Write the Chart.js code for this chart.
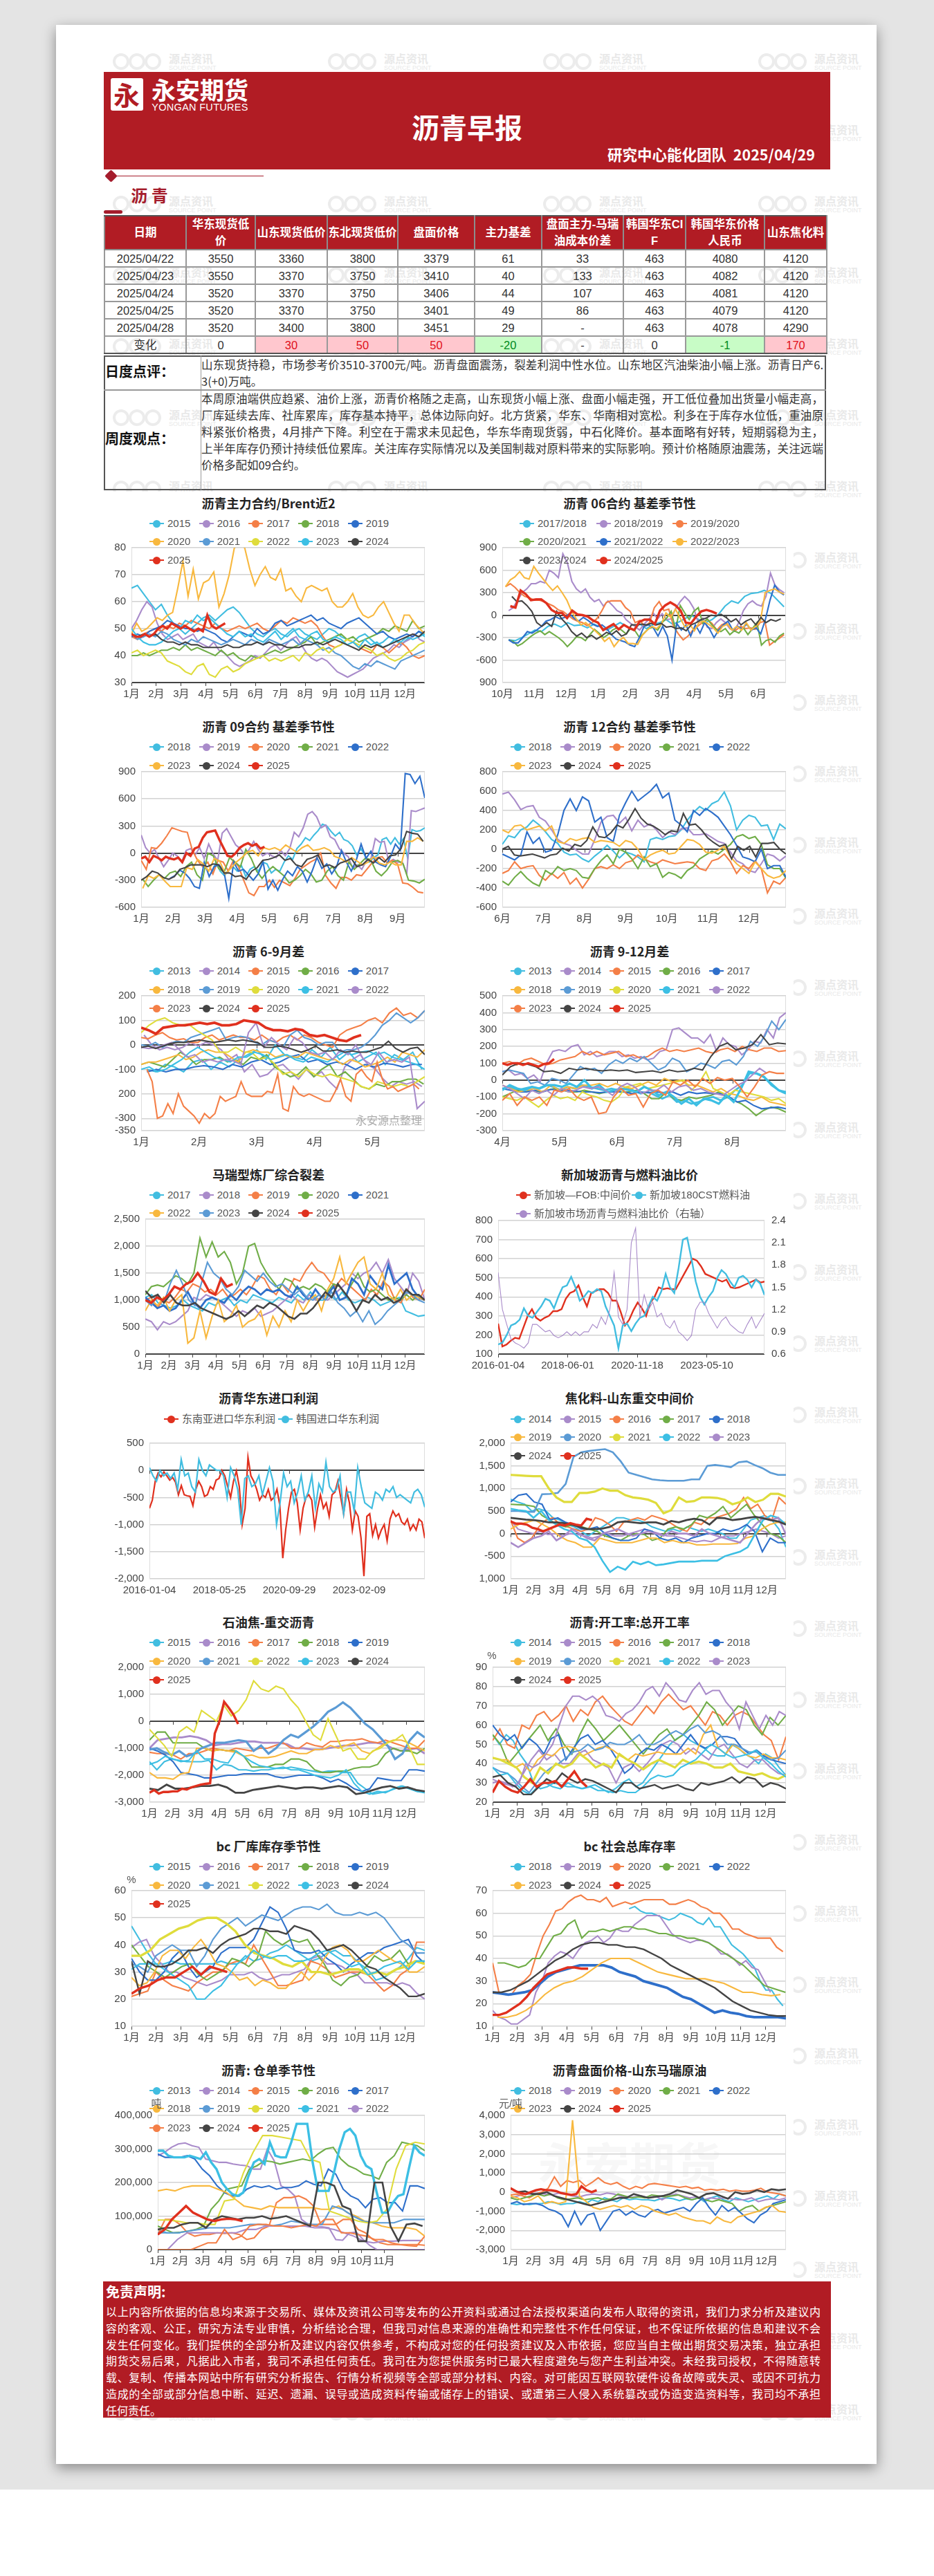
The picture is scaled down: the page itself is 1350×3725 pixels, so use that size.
<!DOCTYPE html>
<html lang="zh">
<head>
<meta charset="utf-8">
<title>沥青早报</title>
<script src="https://cdn.jsdelivr.net/npm/chart.js@4"></script>
<style>
html, body { margin: 0; padding: 0; background: #fff; }
body { position: relative; width: 1350px; height: 3725px; overflow: hidden; font-family: "Liberation Sans", "Noto Sans CJK SC", sans-serif; color: #333; }
#paper { position: absolute; left: 0; top: 0; width: 1350px; height: 3600px; background: #e4e4e4; }
#card { position: absolute; left: 81px; top: 36px; width: 1186px; height: 3527px; background: #fff; box-shadow: 0 6px 18px rgba(0,0,0,.4); }
.abs { position: absolute; }
.center { position: absolute; transform: translate(-50%, -50%); white-space: nowrap; }
.wm { position: absolute; width: 150px; height: 30px; color: #e9e9e9; }
.wm i { position: absolute; top: 2px; width: 24px; height: 24px; border: 4px solid #ececec; border-radius: 50%; box-sizing: border-box; }
.wm b { position: absolute; left: 81px; top: 0; font: bold 16px "Noto Sans CJK SC"; line-height: 18px; white-space: nowrap; }
.wm span { position: absolute; left: 81px; top: 18px; font: 9px "Liberation Sans"; white-space: nowrap; }
table { border-collapse: collapse; table-layout: fixed; position: absolute; background: transparent; }
#price { left: 150px; top: 311px; width: 1044px; }
#price td, #price th { border: 2px solid #999; padding: 0; text-align: center; font-size: 16.5px; line-height: 20px; height: 23px; white-space: pre; font-weight: normal; box-sizing: content-box; }
#price th { background: #b11c24; color: #fff; font-weight: bold; height: 47px; line-height: 23.5px; border-color: #8d8d8d; border-top-color: #555; }
#price tr:last-child td { border-bottom-color: #555; }
#price td.up { background: #ffc7ce; color: #e0101a; }
#price td.down { background: #c8fcc6; color: #008a1c; }
.box { position: absolute; left: 150px; width: 1044px; box-sizing: border-box; border: 2px solid #555; }
.note { position: absolute; left: 291px; width: 899px; font: 16.5px/24px "Noto Sans CJK SC"; text-align: justify; text-align-last: justify; }
.note.end, .disc.end { text-align-last: left; }
.disc { position: absolute; left: 153px; width: 1033px; font: 16px/24px "Noto Sans CJK SC"; color: #fff; text-align: justify; text-align-last: justify; }
.title { position: absolute; transform: translate(-50%, -50%); font: bold 18px "Noto Sans CJK SC"; color: #222; white-space: nowrap; }
.lg { position: absolute; height: 20px; font-size: 15px; line-height: 20px; color: #555; white-space: nowrap; }
.lg u { position: absolute; left: -10px; top: 9px; width: 21px; height: 2px; }
.lg s { position: absolute; left: -5px; top: 5px; width: 11px; height: 11px; border-radius: 50%; }
.lg em { position: absolute; left: 16px; top: 0; font-style: normal; font-family: "Liberation Sans", "Noto Sans CJK SC"; }
canvas { position: absolute; }
</style>
</head>
<body>
<div id="paper"></div>
<div id="card"></div>
<div id="root"></div>
<script>
const tableHead = ['日期', '华东现货低\n价', '山东现货低价', '东北现货低价', '盘面价格', '主力基差', '盘面主力-马瑞\n油成本价差', '韩国华东CI\nF', '韩国华东价格\n人民币', '山东焦化料'];
const tableWidths = [118, 100, 104, 102, 111, 97, 118, 90, 114, 90];
const tableRows = [
  ['2025/04/22', 3550, 3360, 3800, 3379, 61, 33, 463, 4080, 4120],
  ['2025/04/23', 3550, 3370, 3750, 3410, 40, 133, 463, 4082, 4120],
  ['2025/04/24', 3520, 3370, 3750, 3406, 44, 107, 463, 4081, 4120],
  ['2025/04/25', 3520, 3370, 3750, 3401, 49, 86, 463, 4079, 4120],
  ['2025/04/28', 3520, 3400, 3800, 3451, 29, '-', 463, 4078, 4290]
];
const tableChange = ['变化', 0, 30, 50, 50, -20, '-', 0, -1, 170];

const dailyLines = ['山东现货持稳，市场参考价3510-3700元/吨。沥青盘面震荡，裂差利润中性水位。山东地区汽油柴油小幅上涨。沥青日产6.', '3(+0)万吨。'];
const weeklyLines = [
  '本周原油端供应趋紧、油价上涨，沥青价格随之走高，山东现货小幅上涨、盘面小幅走强，开工低位叠加出货量小幅走高，',
  '厂库延续去库、社库累库，库存基本持平，总体边际向好。北方货紧，华东、华南相对宽松。利多在于库存水位低，重油原',
  '料紧张价格贵，4月排产下降。利空在于需求未见起色，华东华南现货弱，中石化降价。基本面略有好转，短期弱稳为主，',
  '上半年库存仍预计持续低位累库。关注库存实际情况以及美国制裁对原料带来的实际影响。预计价格随原油震荡，关注远端',
  '价格多配如09合约。'
];
const disclaimerLines = [
  '以上内容所依据的信息均来源于交易所、媒体及资讯公司等发布的公开资料或通过合法授权渠道向发布人取得的资讯，我们力求分析及建议内',
  '容的客观、公正，研究方法专业审慎，分析结论合理，但我司对信息来源的准确性和完整性不作任何保证，也不保证所依据的信息和建议不会',
  '发生任何变化。我们提供的全部分析及建议内容仅供参考，不构成对您的任何投资建议及入市依据，您应当自主做出期货交易决策，独立承担',
  '期货交易后果，凡据此入市者，我司不承担任何责任。我司在为您提供服务时已最大程度避免与您产生利益冲突。未经我司授权，不得随意转',
  '载、复制、传播本网站中所有研究分析报告、行情分析视频等全部或部分材料、内容。对可能因互联网软硬件设备故障或失灵、或因不可抗力',
  '造成的全部或部分信息中断、延迟、遗漏、误导或造成资料传输或储存上的错误、或遭第三人侵入系统篡改或伪造变造资料等，我司均不承担',
  '任何责任。'
];

const months12 = ['1月', '2月', '3月', '4月', '5月', '6月', '7月', '8月', '9月', '10月', '11月', '12月'];
const years1325 = ['2013', '2014', '2015', '2016', '2017', '2018', '2019', '2020', '2021', '2022', '2023', '2024', '2025'];

// 沥青主力合约/Brent近2
const brent2015 = [65,66,63,60,57,59,55,52,50,48,50,52,54,55,53,55,57,58,56,53,50,48,47,49,50,48,47,49,50,48,47,46,48,50,49,47,46,45,47,48,46,44,45,47,46,44,46,47,49,47];
const brent2016 = [50,53,57,60,58,52,48,46,47,48,46,47,48,45,44,43,45,42,41,39,37,36,37,38,40,39,41,43,44,42,44,46,47,44,41,39,38,39,38,36,34,33,32,33,34,35,37,39,40,41,42,44,43,45,46,48,46,45];
const brent2017 = [47,46,48,49,50,49,51,50,52,51,53,52,51,50,52,50,49,50,51,50,51,52,50,49,51,53,52,54,53,52,53,51,47,44,43,44,46,45,43,42,41,44,43,41,43,45,43,40,39,40];
const brent2018 = [40,40,41,40,41,42,42,43,42,44,42,43,42,41,40,42,40,41,39,38,40,39,40,41,42,41,42,43,44,45,47,44,45,46,47,48,46,47,45,46,47,48,50,49,51,50,49,53,50,51];
const brent2019 = [47,48,47,49,50,51,53,52,51,50,50,49,50,49,48,46,45,47,49,48,47,50,48,49,52,53,51,52,53,54,55,53,54,52,51,50,52,53,54,52,50,48,49,47,46,47,48,47,49,48];
const brent2020 = [48,52,49,50,52,54,53,55,56,65,75,62,72,61,67,68,71,58,63,70,80,81,80,72,66,70,73,69,68,72,64,65,62,60,65,66,65,64,65,60,58,58,60,63,58,55,54,55,58,60,56,52,49,55,55,52,50,48];
const brent2021 = [48,46,47,48,47,49,48,46,45,44,46,45,47,46,45,44,45,46,45,44,46,45,44,46,45,44,45,46,44,46,45,44,42,43,41,40,38,36,35,37,36,38,37,36,35,38,39,40,41,42];
const brent2022 = [41,42,40,41,42,41,38,37,36,34,33,36,37,33,32,35,36,34,35,37,38,39,40,38,39,38,39,40,38,41,40,42,43,41,43,44,46,45,44,43,42,40,41,39,38,39,41,42,44,45];
const brent2023 = [50,47,45,44,44,45,47,49,50,53,52,55,53,54,52,50,48,47,49,47,48,46,45,47,49,46,48,50,47,46,48,49,46,45,47,46,44,45,43,46,44,45,43,44,46,45,47,46,47,48];
const brent2024 = [48,47,48,47,48,46,45,45,44,45,44,44,43,43,43,43,44,43,43,44,44,45,44,45,44,44,43,43,43,44,44,45,44,45,46,45,44,43,42,44,43,44,43,44,45,46,47,48,47,49];
const brent2025 = [48,47,47,48,47,48,50,51,50,52,51,50,51,50,49,50,49,55,51,50,51,52];

// 沥青 06合约 基差季节性
const june1718 = [-330,-340,-300,-250,-200,-220,-150,-120,-160,-100,-140,-130,-170,-120,-160,-200,-150,-100,-150,-200,-120,-180,-130,-100,-60,-120,-90,-40,-10,-60,-100,-60,10,120,190,160,250,290,300,330,290,200,110];
const june1819 = [60,100,200,300,350,420,420,450,430,600,560,500,820,700,450,350,300,350,240,180,210,120,190,130,60,30,-60,-110,-150,-200,-120,-60,30,-50,20,-60,-50,90,180,250,190,90,-100,-40,-160,-180,-100,-50,-100,-180,-200,-100,60,150,190,140,120,250,560,400,340,300];
const june1920 = [380,420,370,300,250,230,200,200,180,150,120,70,50,0,-50,-80,-100,-140,-100,-50,50,170,190,190,190,100,50,-100,-70,-150,-100,100,180,60,80,-150,-250,-330,-280,-200,-150,-100,-60,-110,-200,-130,-100,-190,-200,-150,-180,-170,-190,-100,-80,-400,-350,-310,-260];
const june2021 = [-330,-350,-410,-380,-330,-280,-240,-210,-260,-220,-260,-300,-350,-420,-360,-290,-300,-340,-260,-190,-240,-300,-260,-200,-170,-200,-250,-180,-210,-300,-240,-180,-160,-200,-100,-40,50,-200,130,30,-60,50,100,-110,-50,-130,-190,-220,-180,-260,-210,-240,-170,-260,-180,-100,-400,-340,-320,-360,-280,-240];
const june2122 = [-330,-370,-370,-300,-220,-240,-200,-150,-80,-60,-20,-50,-30,20,-40,-80,-30,-70,-120,-150,-130,-180,-260,-320,-340,-360,-400,-420,-300,-150,-130,-170,-280,-150,-280,-600,-110,-200,-130,-280,-130,-240,-100,-180,-300,-200,-130,-80,-200,-150,-180,-120,-200,-170,-250,-60,200,400,310,270];
const june2223 = [380,470,510,580,500,480,650,560,480,400,330,390,300,200,50,-50,-130,-100,-160,-210,-270,-350,-300,-420,-340,-300,-380,-380,-390,-270,-200,-150,-180,-120,30,-30,80,-40,-160,-120,-210,-100,-80,-120,-170,-240,-150,-120,-200,-150,-200,-100,-200,-150,-80,300,330,350,310,280];
const june2324 = [250,180,190,130,50,-100,-150,-100,-150,50,-50,-120,-220,-280,-240,-300,-270,-320,-280,-230,-260,-210,-280,-250,-130,-130,-120,-130,-110,-130,-110,-160,-150,-180,-170,-210,-130,-100,-60,-40,0,-10,10,-30,-90,-50,-130,-80,-50,-130,-30,-100,-60,-80,-50];
const june2425 = [120,100,330,280,200,210,210,160,70,30,30,-40,60,10,0,-20,-70,-100,-200,-160,-120,-190,-130,-170,-200,-90,-60,-60,-120,60,130,170,130,60,-100,-110,-20,50,70,50,20];

// 沥青 09合约 基差季节性
const sep2018 = [-230,-100,-200,-250,-180,-150,-200,-140,-260,-180,-150,-200,-100,-120,-220,-180,-200,-100,-30,-70,50,100,170,140,200,250,320,300,240,190,230,150,130,80,-20,50,-30,-100,-50,-20,150,170,100,170,100,160,-60,260,240,250,280];
const sep2019 = [200,60,0,40,-60,-150,-80,0,-30,-100,30,50,-20,60,-60,100,-10,-80,220,270,180,90,50,-20,40,130,40,-30,0,-30,-50,30,-30,50,230,180,280,430,460,400,280,310,180,150,50,0,-40,-170,-130,-180,-90,-70,160,120,130,-100,-70,-100,-100,-230,470,460,480,500];
const sep2020 = [-80,-180,60,50,110,190,280,260,240,230,30,-80,-150,-100,-230,-80,-100,-200,-80,-150,-300,-440,-470,-370,-370,-300,-380,-300,-330,-360,-280,-180,-140,-100,-70,0,-250,-330,-390,-270,-270,-300,-240,-250,-180,-110,-50,-40,-110,-80,-120,-330,-340,-380,-430,-440];
const sep2021 = [-290,-370,-300,-240,-280,-220,-200,-260,-150,-100,-240,-300,0,-30,-170,-210,-50,-100,-150,40,-60,-200,-280,-200,-150,-200,-250,-330,-300,-250,-180,-230,-320,-300,-200,-150,-250,-300,-100,-180,-120,-60,-70,-200,-250,-190,-100,-80,-120,-300,-310,-330,-290];
const sep2022 = [-280,-250,-190,-220,-280,-370,-390,-100,-260,-150,-130,-200,-500,-100,-200,-180,-240,-300,-230,-100,-400,-300,-410,-290,-200,-250,-150,-200,-320,-200,-50,-170,-120,-230,-150,30,-100,-200,-80,100,-60,20,-100,-130,-150,-40,100,30,880,870,770,850,610];
const sep2023 = [-390,-250,-280,-240,-310,-370,-370,-370,-160,-180,-70,-120,-200,-60,-90,-230,-170,-100,-50,10,30,-30,60,40,60,30,90,50,10,60,90,30,40,60,30,-40,-60,-100,-50,-90,-130,-100,-40,-110,-130,-100,-130,-130,130,130,170,130];
const sep2024 = [-300,-260,-200,-220,-270,-290,-260,-180,-160,-130,-130,-130,-150,-120,-130,-220,-220,-260,-250,-290,-200,-160,-80,-70,-50,-20,-80,-60,-130,-150,-70,-50,-20,-150,-130,-160,-110,-90,-60,-150,-130,-70,-110,-50,-100,-30,-20,50,240,220,210,130];
const sep2025 = [-60,-40,-100,-30,-50,-80,-40,-60,-70,-50,-100,0,-30,50,70,170,230,240,250,150,60,-30,-40,0,60,90,110,80,100,50,70];

// 沥青 12合约 基差季节性
const dec2018 = [50,140,120,200,230,300,250,180,100,60,-30,-60,-50,-100,-130,-70,-20,40,-20,-90,-30,-50,-80,-130,100,120,100,130,140,200,300,380,440,400,470,500,590,450,200,300,350,330,240,250,100,260,210];
const dec2019 = [570,590,510,410,440,450,330,290,200,100,60,40,-10,-50,-50,100,280,340,350,270,330,190,300,230,260,200,120,180,150,210,220,150,150,160,120,80,60,-30,-120,-150,-220,-240,-150,-50,-70,-120,-70];
const dec2020 = [-250,-220,-130,-200,-180,-170,-270,-320,-250,-300,-240,-360,-300,-400,-310,-200,-180,-200,-160,-200,-140,-120,-60,-100,-130,-150,-110,-130,-150,-140,-130,-140,-200,-220,-120,-100,-50,-130,-250,-170,-200,-120,-200,-450,-330,-360,-290];
const dec2021 = [-330,-370,-290,-230,-300,-350,-380,-220,-260,-180,-220,-200,-220,-290,-300,-200,-120,-60,-150,0,-30,-100,-200,-80,-180,-150,-290,-240,-260,-300,-220,-180,-100,-60,-20,-50,0,50,130,150,110,130,50,-160,-200,-200,-300];
const dec2022 = [-50,-80,-110,-60,180,60,120,-30,-10,150,400,520,400,540,500,280,330,120,80,350,480,600,500,550,600,670,530,580,300,250,180,400,350,420,380,330,240,150,40,-80,-100,-130,0,-200,-170,-170,-290];
const dec2023 = [200,170,240,250,200,220,240,190,240,80,60,110,90,110,120,70,90,80,70,30,90,70,0,-110,-60,-30,-10,-50,-40,30,100,90,50,-30,-40,-10,30,-80,-150,-200,-250,-130,-200,-270,-300,-280,-220];
const dec2024 = [0,30,-60,-70,-60,-50,-70,-90,-60,-50,10,-20,50,30,90,230,130,120,170,250,220,310,420,320,260,240,200,150,190,180,370,250,260,200,120,70,30,50,-100,30,-10,30,-80,60,60,70,0,-50];
const dec2025 = [];

// 沥青 6-9月差
const sp69y13 = [-100,-110,-80,-90,-110,-70,-60,-100,-70,-90,-60,-40,-20,-60,0,-40,-50,-60,-20,-50,-10,-60,-30,-70,-50,-30,-80,-40,-60,-30,-100];
const sp69y14 = [40,0,-20,-10,-20,-10,10,-5,10,0,-20,-60,-40,-110,-80,-130,-120,-90,-80,-110,-140,-100,-130,-110,-150,-180,-90,-60,-40,-80,-100,-140,-170,-150,-160,-150,-170];
const sp69y15 = [30,25,40,50,30,20,25,10,10,30,40,20,30,40,30,30,20,40,20,10,30,40,20,40,30,10,0,-10,40,60,70,80,100,110,90,130,150,120,130,110,140];
const sp69y16 = [-80,-70,-80,-90,-60,-30,-50,-80,-60,-60,-50,-70,-60,-80,-50,-60,-40,-90,-110,-130,-120,-90,-130,-100,-80,-130,-110,-140,-170,-180,-160,-170,-150,-150,-140,-140,-160];
const sp69y17 = [-110,-100,-110,-100,-100,-90,-85,-90,-100,-80,-90,-70,-60,-80,-70,-50,-40,-70,-60,-80,-70,-80,-100,-80,-90,-75,-80,-90,-80,-80];
const sp69y18 = [-80,-70,-70,-60,-50,-40,-60,-50,-30,-20,-30,-30,-50,-70,-30,-20,-30,-30,-50,-40,-50,-50,-30,-40,-50,-60,-60,-80,-60,-70,-90,-80,-70,-50,-70,-30,-40,-50,-20];
const sp69y19 = [0,-5,10,-10,5,15,10,30,40,50,60,70,20,30,35,30,10,0,20,10,-10,40,60,30,20,0,10,10,-30,-20,-20,-10,10,40,80,100,130,110,90,110,140];
const sp69y20 = [50,80,100,110,90,80,85,60,40,20,-30,-30,-10,-30,-30,-60,-50,-80,-120,-110,-130,-100,-120,-130,-120,-130,-140,-150,-170,-180,-150,-160,-170,-160,-170,-150,-130];
const sp69y21 = [-100,-90,-110,-100,-80,-60,-30,-10,-30,-50,-60,-70,-50,-50,-30,-40,-60,-50,-40,-60,-70,-50,-60,-70,-50,-30,-40,-30,-25,-40,-30,-50,-60,-70,-80,-100];
const sp69y22 = [-10,-15,-10,0,10,-20,-50,-40,-70,-60,-70,-60,-65,-80,50,90,-10,30,0,-20,30,10,-30,-40,-30,-60,-20,-40,0,-60,-80,-30,-70,-60,-70,-50,-260,-230];
const sp69y23 = [-100,-150,-300,-290,-240,-280,-200,-250,-270,-290,-320,-280,-300,-280,-210,-230,-220,-210,-150,-200,-210,-210,-210,-190,-195,-120,-260,-270,-170,-200,-210,-200,-210,-220,-230,-230,-190,-140,-210,-230,-120,-100,-130,-150,-70,-140,-180,-170,-190,-180,-170,-160,-180];
const sp69y24 = [-10,-5,-15,-5,5,10,10,15,20,15,10,15,20,15,20,15,10,-10,-10,-5,-10,-20,-30,-20,-5,-25,-25,-20,-30,-25,-30,-30,-20,-10,15,-15,-30,-15,-10,-40];
const sp69y25 = [70,60,45,70,75,80,80,85,90,85,90,80,80,85,100,95,90,70,60,60,55,65,60,40,35,40,30,20,15,30,40];

// 沥青 9-12月差
const sp912y13 = [-50,-40,-60,-50,-40,-50,-30,-40,-60,-40,-50,-30,-40,-50,-60,-50,-60,-50,-60,-80,-70,-90,-110,-90,-130,-120,-140,-130,-110,-100,-120,-100,-60,-30,40,40,20,-30,-60,-70];
const sp912y14 = [50,60,30,40,10,30,-10,100,170,180,170,200,210,150,170,140,150,170,170,140,150,130,140,120,130,170,180,300,310,280,250,250,220,270,170,250,210,200,150,180,230,220,300,250,370,400];
const sp912y15 = [100,110,90,120,130,110,90,100,120,130,140,170,150,170,150,160,170,140,150,130,140,170,190,170,180,170,180,190,170,160,180,190,170,200,180,170,190,190,170,175];
const sp912y16 = [-100,-80,-60,-70,-60,-70,-60,-50,-60,-70,-70,-60,-70,-80,-70,-60,-70,-70,-60,-80,-110,-110,-70,-110,-120,-100,-110,-100,-90,-70,-100,-120,-140,-170,-210,-180,-160,-170,-190];
const sp912y17 = [-50,-60,-70,-70,-60,-70,-55,-60,-60,-65,-70,-70,-75,-70,-70,-70,-80,-70,-75,-70,-75,-70,-90,-70,-80,-75,-80,-80,-100,-130,-120,-150,-170,-165,-160,-170];
const sp912y18 = [-30,-50,-70,-60,-50,-70,-30,-60,-40,-50,-30,-30,-20,-40,-20,-40,-50,-30,-10,-30,10,-10,0,-30,-30,-50,-70,-50,-80,-90,-110,-120,-100,-130,-140,-150];
const sp912y19 = [50,60,50,40,-20,-10,-30,10,0,-20,30,80,60,70,40,90,120,100,130,110,140,100,60,80,130,110,50,70,100,90,70,110,120,90,140,230,200,260,350,300,360];
const sp912y20 = [-100,-110,-120,-100,-130,-160,-120,-90,-110,-100,-120,-70,-90,-100,-120,-130,-100,-40,-30,-20,-50,-40,-30,-20,-10,0,-60,-20,50,-50,-70,-90,-60,-70,-80,-90,-100,-120,-110,-140];
const sp912y21 = [-60,-30,-50,-60,-40,-50,-30,-30,-40,-20,-40,0,-50,-30,-70,-60,-50,-60,-70,-40,-60,-90,-70,-100,-140,-110,-150,-110,-120,-140,-90,-130,-50,50,40,20,-20,-60,-80];
const sp912y22 = [-30,-50,-80,-110,-60,-80,-60,-90,-50,-70,-60,-40,-50,-40,-60,-90,-40,-20,-40,-80,-60,-60,-30,-70,-40,-30,-60,-50,-70,-80,-90,-60,-30,-10,30,70,40];
const sp912y23 = [-120,-80,-150,-100,-120,-100,-150,-60,-70,-50,-100,-120,-100,-200,-190,-100,-50,-90,-80,-160,-80,-60,-90,-10,-30,0,-40,10,-20,15,0,10,-40,-100,-40,30,50,40,40];
const sp912y24 = [30,80,100,95,80,50,55,40,70,60,70,60,55,60,55,60,45,50,55,45,60,50,55,70,60,140,200,220,180,190,210,270,210,220,215];
const sp912y25 = [100,90,100,100,90,100,90,80,95,100,125];

// 马瑞型炼厂综合裂差
const crack2017 = [1050,1100,950,900,850,900,1000,900,850,800,950,900,1000,1050,900,1000,950,1100,1050,1000,950,1050,1000,950,1100,1000,1150,1000,1000,1100,1000,1150,1000,950,1000,1050,1000,900,950,1000,1050,800,750,700,720];
const crack2018 = [650,600,450,600,550,600,700,800,1050,1000,1100,1050,1000,900,800,700,800,750,850,700,750,800,900,1000,1100,1000,950,1100,1000,1050,1000,1100,1200,1300,1500,1400,1500,1550,1700,1500,1750,1400,1250,1100,1500,1350,1000];
const crack2019 = [1000,1050,850,1000,950,1050,1200,1150,1300,1250,1150,1200,1100,1200,1050,1100,1200,1100,1250,1450,1400,1200,1100,1300,1150,1400,1350,1550,1700,1550,1500,1350,1250,1400,1300,1200,1100,1000,1200,1100,1350,1250,1000,950,1200,1050,1000,1200];
const crack2020 = [1100,1250,1280,1250,1350,1450,1400,1300,1500,2150,1800,2080,1800,1900,1700,1300,1500,2000,2050,1700,1500,1350,1200,1400,1350,1200,1250,1200,1300,1250,1150,1300,1250,1100,1300,1500,1250,1150,1200,1100,1000,1050,1000,1100,1000,1100,1000];
const crack2021 = [1050,950,850,900,800,850,1000,1150,950,850,1000,1050,1000,950,1100,1000,1150,1250,1200,1100,1200,1150,1200,1100,1050,1250,1100,1000,1200,1050,1100,1250,1000,1050,1400,1300,1100,1450,1300,1200,1650,1300,1400,1500,1200,1050,1000];
const crack2022 = [800,1000,900,1050,800,1000,1100,200,300,800,300,700,1000,600,700,900,500,600,650,800,350,700,500,800,600,1000,800,1000,1100,800,1200,1400,1800,1300,1500,1700,1800,1300,1200,1500,1100,1000,1200,1000,1100,1050,1000];
const crack2023 = [1000,900,1100,950,1300,1550,1300,1000,900,1300,1700,1500,1400,1200,1100,1250,1550,1450,1350,1500,1350,1250,1300,1200,1100,1200,1050,1000,1100,1000,1150,950,850,700,800,600,800,550,650,800,900,1000,1150,1100,1000,950];
const crack2024 = [1170,1050,1100,950,1100,950,900,900,950,850,800,750,700,650,700,800,700,800,900,850,950,900,800,700,650,750,750,850,1000,1150,1050,1300,1150,1000,800,1000,950,1100,1000,1050,950,1000,1200,1100,1100,1000];
const crack2025 = [1000,950,1050,1000,1100,1250,1200,1300,1350,1500,1350,1150,1100,1400,1250,1300];

// 新加坡沥青与燃料油比价
const sgAsphalt = [260,140,150,170,185,180,240,300,335,290,275,290,300,325,325,335,390,420,430,460,400,350,420,430,440,440,420,380,380,320,250,280,330,370,340,300,370,400,450,440,445,440,440,480,520,560,600,590,560,520,510,500,490,480,490,450,445,450,460,470,480,490,475,480];
const sgFuel = [150,160,200,250,260,280,340,300,290,320,350,390,380,340,400,450,460,505,450,380,400,430,420,440,430,350,300,250,130,250,260,220,260,290,300,350,400,380,430,520,450,420,550,700,710,600,480,400,360,400,430,500,540,520,480,450,500,510,490,450,490,470,410];
const sgRatio = [1.7,1.2,1.0,0.8,0.75,0.72,0.68,0.75,1.0,1.0,0.95,0.9,0.92,0.85,0.82,0.85,0.9,0.85,0.9,0.85,0.9,0.9,1.0,0.95,1.1,1.0,1.2,1.7,1.1,1.0,1.2,2.1,2.3,1.1,1.4,1.2,1.3,1.1,1.15,1.0,0.95,1.05,0.9,0.85,0.78,0.85,1.2,1.3,1.3,1.15,1.05,0.95,1.05,1.1,1.0,0.95,0.9,0.88,1.0,1.1,0.95,1.05,1.15];

// 沥青华东进口利润
const importSea = [-700,-550,-200,-50,-120,-30,-100,-180,-130,-220,-450,-280,-450,-470,-480,-650,-350,-200,-300,-480,-450,-300,-350,-180,-150,0,-100,-300,-500,-200,-10,-300,-1000,-700,240,-100,-200,-350,-550,-450,-500,-350,-550,-500,-350,-650,-1620,-1100,-700,-400,-350,-600,-1100,-700,-500,-450,-550,-1050,-700,-450,-700,-600,-850,-450,-400,-200,-500,-800,-350,-600,-1100,-750,-850,-1250,-1950,-850,-800,-1200,-1000,-1250,-1100,-1000,-1300,-900,-750,-850,-800,-950,-1000,-900,-1100,-1000,-1100,-900,-950,-1250];
const importKorea = [50,-100,-200,0,-100,-50,-150,-50,-350,200,-100,-50,-300,-400,200,0,-100,100,50,0,0,-100,-500,50,-100,-350,-1000,-150,-100,-300,-250,-100,-450,-200,50,-200,-1000,-600,-50,-300,-200,-600,-400,-100,-550,-400,-100,-700,-250,-400,150,-300,-400,-350,-100,-800,-400,-400,-750,50,-300,-600,-650,-700,-400,-450,-550,-350,-400,-300,-500,-450,-500,-550,-600,-400,-350,-450,-680];

// 焦化料-山东重交中间价
const coker2014 = [760,700,650,500,550,500,350,300,200,150,50,-50,50,150,250,350,350,300,300,250,150,100,50,100,50,150,100,50,100,50,0,-100,-100,100,300,350,400,300,100,-300];
const coker2015 = [300,100,50,0,50,-20,0,-50,0,-20,-50,-100,-50,0,-50,-50,0,50,100,50,0,-50,-50,-100,-150,-180,-150,-180,-100,-50,-50,0,50,100,50,0,-100,-50];
const coker2016 = [300,-100,-200,-100,150,300,350,200,150,100,50,100,350,300,200,50,250,300,350,300,400,350,300,200,100,50,250,200,350,350,400,450,550,800,550,650,400,300,800,650];
const coker2017 = [650,640,630,600,400,300,200,150,200,150,100,50,-50,-100,-150,-50,0,-20,-150,-100,100,150,100,200,400,350,450,600,350,500,650,400,200,0,-50,-200];
const coker2018 = [700,850,880,700,650,300,350,250,200,100,100,150,0,-100,-150,-150,-100,100,50,-100,-150,-100,-200,-100,-50,0,0,100,50,100,200,50,-400,-100,-200,-200];
const coker2019 = [100,200,250,300,200,100,-50,-150,-200,-300,-300,-100,-150,-200,-200,-200,-150,-100,-100,-200,-150,-200,-200,-250,-250,-230,-230,-230,-220,-100,-50,100,200,250,250];
const coker2020 = [500,500,480,480,870,880,900,1100,1700,1800,1830,1850,1870,1800,1600,1350,1300,1250,1200,1180,1170,1170,1170,1200,1200,1500,1520,1500,1470,1580,1600,1520,1450,1350,1300,1300];
const coker2021 = [1300,1290,1280,1270,1270,1000,800,700,700,900,900,930,1000,950,950,850,800,780,750,680,450,520,800,700,720,800,800,790,750,650,700,800,700,750,880,880,820];
const coker2022 = [550,520,500,350,500,300,200,100,50,-100,-150,-300,-600,-850,-730,-800,-620,-680,-620,-700,-680,-650,-620,-620,-620,-600,-600,-600,-500,-450,-400,-300,0,300,400,350,200];
const coker2023 = [-200,-300,-200,-100,-50,50,-150,-50,100,0,-100,-150,0,50,100,20,-50,0,50,0,-50,50,0,0,-50,100,0,-50,-100,-150,-200,0,200,350,300,350,-20];
const coker2024 = [350,330,310,300,280,250,250,230,200,150,100,100,110,150,250,270,250,230,250,250,200,280,250,300,330,300,200,350,340,300,320,350,370,340,300,270,200];
const coker2025 = [270,220,220,200,130,100,50,100,150,200,180,230,200,180,330,300];

// 石油焦-重交沥青
const coke2015 = [-1500,-1800,-1500,-1400,-1450,-1500,-1500,-1500,-1450,-1800,-1600,-1650,-1800,-1800,-1850,-1800,-1800,-1750,-1750,-1700,-1750,-1800,-1850,-1900,-1850,-1850,-1900,-1900,-2300,-2500,-2700,-2650,-2600,-2500,-2400,-2500,-2600,-2600];
const coke2016 = [-1000,-700,-650,-600,-600,-550,-600,-700,-900,-850,-850,-800,-750,-750,-800,-800,-800,-850,-1000,-1000,-1050,-1050,-1000,-950,-900,-900,-850,-800,-800,-850,-1000,-1100,-1050,-1000,-1200];
const coke2017 = [-1150,-1200,-1200,-1250,-1400,-1200,-1200,-1100,-1000,-1050,-1100,-1000,-1050,-1100,-1000,-1000,-900,-800,-1000,-1000,-800,-900,-950,-750,-750,-700,-700,-650,-750,-800,-700,-800,-900,-1000,-1000,-700];
const coke2018 = [-700,-400,-400,-800,-800,-800,-800,-1000,-1100,-1050,-1100,-1100,-1300,-1700,-1700,-1700,-1600,-1600,-1400,-1400,-1500,-1800,-1900,-1900,-1850,-1850,-1750,-1700,-1700,-1600,-1200,-1000,-1100,-1100,-1200,-1000];
const coke2019 = [-1000,-1100,-1250,-1500,-1900,-1950,-2000,-2100,-2100,-2050,-2000,-2000,-1950,-1950,-1950,-1950,-2050,-2100,-2050,-2000,-2000,-2000,-2100,-2250,-2150,-2300,-2500,-2600,-2500,-2100,-2150,-2200,-2200,-1800,-1800,-1850];
const coke2020 = [-1900,-2100,-2100,-2150,-1950,-1900,-1000,-1000,-1100,-1050,-1100,-1150,-1300,-1250,-1350,-1350,-1300,-1200,-1100,-1200,-1200,-1050,-1050,-900,-1000,-900,-800,-1100,-1200,-1000,-800,-700,-700,-800,-950,-1100];
const coke2021 = [-1050,-1000,-1150,-1250,-1100,-1300,-1200,-1000,-900,-800,-800,-750,-700,-750,-1100,-900,-1200,-1000,-700,-500,-600,-400,-200,50,350,500,700,500,200,-100,-300,-600,-900,-1400,-1200,-700,-400,-600];
const coke2022 = [-300,-600,-900,-1300,-400,-200,-400,400,200,0,600,200,400,800,1500,1200,1100,1300,1200,800,500,0,-500,-700,100,-500,-1100,-1000,-1400,-1400,-1100,-1000,-800,-700,-500,-1000,-1600,-1600];
const coke2023 = [-1600,-1500,-1300,-1400,-1500,-1450,-1100,-1400,-1400,-1500,-1550,-1100,-1300,-1500,-1650,-1700,-1750,-1700,-1800,-1800,-1900,-2000,-2050,-2100,-2000,-1800,-2300,-2600,-2700,-2600,-2650,-2500,-2400,-2500,-2600,-2650];
const coke2024 = [-2500,-2550,-2350,-2500,-2500,-2450,-2400,-2400,-2350,-2450,-2650,-2650,-2550,-2500,-2450,-2400,-2450,-2500,-2450,-2450,-2500,-2450,-2400,-2450,-2700,-2650,-2550,-2450,-2400,-2500,-2450,-2550,-2600];
const coke2025 = [-2650,-2550,-2680,-2620,-2620,-2600,-2600,-2500,-2530,-2450,-2400,-2350,-2320,-2300,-450,0,720,500,250,-100];

// 沥青:开工率:总开工率
const rate2014 = [55,50,55,52,45,40,30,27,28,30,29,28,28,27,28,29,27,25,27,30,32,28,30,35,40,45,50,53,55,52,50,48,45,44,44,50,48,45,43,40,45,43,38,34];
const rate2015 = [32,30,29,28,35,42,47,42,45,40,40,45,47,42,40,38,30,38,40,36,40,45,50,52,50,45,48,45,42,48,50,45,40,38,42,42,38,35,34];
const rate2016 = [52,58,50,48,60,58,65,67,62,65,70,62,68,65,72,75,70,66,62,60,65,70,66,72,76,72,68,70,65,60,67,65,60,65,67,65,60,55,52,42,54];
const rate2017 = [55,50,40,45,50,55,60,52,58,50,45,55,63,58,52,56,60,55,50,45,50,55,58,52,55,60,65,72,68,60,65,70,68,60,55,64,60,65];
const rate2018 = [60,55,52,55,48,53,50,45,53,55,42,48,53,55,50,52,48,42,35,38,45,48,47,50,48,45,50,55,50,48,50,54,54,53,48,45,47,44,42,41,40];
const rate2019 = [43,42,42,38,40,36,42,45,44,48,49,48,44,46,48,49,47,44,42,45,44,45,46,45,45,45,48,45,55,60,48,45,50,47,44,43,45,43,43,42];
const rate2020 = [38,36,35,32,28,25,30,35,38,40,43,46,47,50,47,48,51,50,50,52,55,50,50,52,55,57,55,58,60,56,57,55,50,50,48,46,46,43,42,43,47];
const rate2021 = [43,42,40,38,33,30,38,35,40,38,40,45,42,38,40,38,45,42,40,37,40,42,40,38,42,40,41,40,38,38,40,36,35,34,35,33,32,34];
const rate2022 = [38,34,35,30,26,24,28,30,28,27,30,28,27,28,26,26,25,26,25,25,28,32,34,33,34,38,40,42,46,50,48,45,43,44,45,47,43,40,36,33];
const rate2023 = [30,31,30,28,30,40,38,40,45,50,60,70,75,75,73,75,72,65,64,62,66,68,72,78,80,75,82,78,73,72,78,82,76,78,78,72,68,58,72,65,58,65,60,67,65];
const rate2024 = [33,34,30,28,24,24,28,32,30,35,32,30,32,31,29,27,25,30,30,27,28,29,27,28,29,27,26,30,29,30,31,33,30,33,32,28,30,29,27];
const rate2025 = [25,31,28,26,25,28,32,28,30,30,31,28,32,36,31,28];

// bc 厂库库存季节性
const plant2015 = [47,42,37,33,33,34,33,33,33,33,33,34,33,33,36,34,35,37,38,40,38,36,34,35,37,38,36,36,33,31,27,28,30,32,35,39,38];
const plant2016 = [39,41,42,36,33,30,30,28,27,26,25,26,27,29,29,29,30,28,27,28,29,29,30,31,35,36,33,33,32,30,29,26,26,26,26,25,26,25,22,20];
const plant2017 = [21,22,23,30,27,25,24,23,26,28,30,30,33,34,33,40,35,30,25,25,26,27,34,33,31,28,29,30,30,29,26,23,25,29,31,41,41];
const plant2018 = [40,36,32,30,28,30,32,33,29,27,29,31,35,34,32,35,45,42,40,42,41,42,37,33,27,25,28,29,32,36,34,35,38,33,34,34];
const plant2019 = [35,30,27,27,30,35,38,32,28,30,32,37,39,39,39,42,48,54,52,46,38,37,37,38,35,33,30,33,35,37,37,39,40,41,42,36,33];
const plant2020 = [28,25,26,30,36,38,38,35,39,42,38,33,32,30,27,28,25,27,26,24,24,27,30,27,30,35,39,40,38,34,34,36,38,36,34,33,30,30,32];
const plant2021 = [33,32,30,36,38,40,38,38,32,36,42,46,48,50,47,49,51,50,49,51,53,54,54,53,55,52,51,51,52,51,52,50,46,42,40,37,37];
const plant2022 = [36,36,38,42,44,46,47,49,50,50,48,45,40,37,36,35,33,32,34,30,30,29,30,31,31,29,30,29,31,32,34,33];
const plant2023 = [31,33,33,33,31,29,27,25,20,20,23,25,29,33,35,38,36,35,36,36,34,34,35,37,38,36,34,32,33,29,30,32,33,34,31,34,34];
const plant2024 = [34,22,34,32,32,33,35,38,38,39,37,40,42,43,44,46,46,45,45,44,47,46,45,42,38,39,40,38,35,32,31,28,26,24,21,21,22];
const plant2025 = [22,24,25,27,28,28,30,32,29,32,31,30];

// bc 社会总库存率
const social2018 = [62,63,61,60,60,59,58,57,58,60,59,58,56,55,58,54,54,50,46,44,42,39,36,30,26,26,22,19];
const social2019 = [17,14,13,11,11,13,15,25,30,38,41,43,42,40,44,47,48,50,47,49,53,52,52,55,57,59,59,59,55,51,49,48,47,48,48,47,45,42,42,40,37,39,36,35,30,25];
const social2020 = [38,25,24,24,28,30,33,42,50,55,61,62,65,67,68,66,66,65,67,63,64,65,64,65,66,66,66,66,64,64,65,66,65,63,62,60,60,57,53,53,51,50,49,49,49,45,43];
const social2021 = [38,38,37,36,37,40,40,45,50,51,55,57,49,52,52,53,52,53,54,54,53,53,52,51,51,50,50,49,49,48,47,45,43,41,39,37,34,31,28,27,26,25];
const social2022 = [25,24.5,24,24.5,25,26,29,32,34,35,36,37,37,37,37,36,34,33,32,30,29,28,27,25,23,22,20,18,16,17,16,15.5,14.5,14,14,14,14,13.5];
const social2023 = [14,14,15,17,20,24,27,29,30,32,35,38,40,40,40,38,36,34,33,32,31,31,31,30,29,27,25,25,24,23.5,24];
const social2024 = [25,25,26,28,30,33,36,39,41,44,46,47,47,46,46,45,45,44,42,40,37,35,33,31,29,27,24,21,19,17,16,15,14.5,14.5];
const social2025 = [15,15,16,18,20,23,27,30,33,34,35,36,36,35.5,35.5];

// 沥青: 仓单季节性, 单位千吨
const ware2013 = [60,55,50,50,50,50];
const ware2014 = [280,290,305,315,318,310,305,270,265,260,260,255,252,250,240,240,300,265,190,180,160,90,75,70,68,65,30,28,50,52,30,12,0,0,0,0,0,0,0,0];
const ware2015 = [45,90,90,75,50,40,45,45,50,48,50,45,30,35,60,70,140,155,155,160,150,130,75,75,75,90,90,60,50,30,20,15,15,15,15,15,13];
const ware2016 = [70,60,50,52,55,60,70,120,145,180,185,190,240,250,265,262,255,260,265,270,265,285,300,305,270,250,240,225,220,210,260,280,320,315,310,295];
const ware2017 = [285,275,275,275,280,270,240,220,190,170,160,160,180,190,185,190,180,185,185,190,205,195,190,240,225,180,160,150,125,150,155,140,140,115,190,190,182];
const ware2018 = [175,180,175,185,190,190,190,180,170,150,130,125,120,130,125,125,125,125,125,120,120,130,110,100,85,80,70,65,65,65,60,40];
const ware2019 = [50,50,50,55,60,65,65,65,70,75,75,70,75,85,80,75,75,130,120,100,85,80,80,80,90,90,90];
const ware2020 = [88,88,85,80,80,75,75,145,150,230,290,340,340,335,330,325,270,260,115,105,95,85,80,85,120,240,310,320,315];
const ware2021 = [295,295,280,275,275,275,280,275,270,290,260,240,200,180,165,160,170,220,260,270,255,320,280,275,275,320,375,375,375,260,175,175,175,230,300,350,360,340,280,250,240,170,110,110,140,160,165,240,310,290,280];
const ware2022 = [0,0,30,50,50,50,50,50,50,60,60,70,70,70,70,70,65,65,60,50,40,25,20,25,25,27,27,27];
const ware2023 = [0,0,0,0,0,10,20,20,60,30,40,70,75,75,70,70,65,70,75,70,90,90,50,50,45,40,30,30,20,15,12,10,40];
const ware2024 = [60,65,65,75,80,80,65,90,100,95,90,95,95,100,92,95,100,90,80,70,200,200,190,130,120,25,25,200,200,70,25,75,78,70];
const ware2025 = [45,60,90,110,130,110,100,90,85,90,92,90,85];

// 沥青盘面价格-山东马瑞原油
const maya2018 = [-600,-650,-600,-650,-600,-600,-500,-550,-650,-600,-600,-500,-600,-400,-500,-300,-400,-500,-300,-400,-350,-400,-400,-450,-350,-300,-350,-450,-350,-400,-300,-500,-300,-200,-400,-500,-300,-400,-500,-400,-300,-200,-350,-100,-200];
const maya2019 = [-300,-200,-100,-100,-50,-100,-150,-50,-100,-200,-250,-150,-100,-150,-50,-100,-200,-300,-250,-200,-300,-200,-400,-200,-100,-200,-300,-250,-400,-300,-350,-300,-350,-400,-400,-300,-500,-400,-350,-400,-300];
const maya2020 = [-150,-100,-200,-300,-100,0,200,800,300,600,500,600,300,500,750,500,400,500,300,150,300,200,400,450,400,350,300,250,300,200,250,100,150,100,150,50,100,50,50,100,200,0,-50,-100,-200];
const maya2021 = [-300,-400,-300,-200,-100,-200,-100,-300,-400,-350,-300,-400,-350,-300,-400,-350,-100,-200,-300,-250,-300,-150,-200,-250,-200,-150,-300,-400,-300,-400,-500,-400,-500,-600,-1000,-800,-700,-1000,-800,-700,-600,-500];
const maya2022 = [-600,-500,-650,-600,-600,-700,-900,-1000,-1200,-1800,-1000,-1700,-1200,-1100,-2000,-1500,-1000,-900,-1200,-1000,-1200,-1300,-1000,-900,-1100,-1000,-900,-800,-1000,-600,-300,-800,-1200,-700,-1000,-800,-1100,-1400,-1600,-1200,-1000,-600,-500,-400];
const maya2023 = [-200,-300,-500,-400,-200,-600,-500,-600,-500,3750,-200,-500,-800,-900,-800,-700,-800,-700,-900,-700,-800,-1000,-1100,-1200,-1100,-1300,-1400,-1500,-1500,-1650,-1300,-1500,-1600,-1300,-1200,-1100,-1000,-800,-700,-1000,-1050];
const maya2024 = [200,0,50,-100,-100,0,-200,-300,-400,-500,-600,-700,-600,-500,-400,-300,-300,-100,-200,-300,-250,-200,-100,100,0,-100,-300,-100,-50,-200,-350,0,-100,-50,100,0,150,100,150];
const maya2025 = [200,50,-50,-100,0,100,150,100,100,50,-50,-100,-150,-100,300,100,0,100];

const palette = ['#41bde0', '#a98bca', '#f47f47', '#70ad47', '#2e6fca', '#f8b83e', '#5b9bd5', '#dfdc3c', '#3cbfe4', '#a98bca', '#f47f47'];
const DARK = '#444444', RED = '#e0301e';

const root = document.getElementById('root');

function el(cls, text, style) {
  const d = document.createElement('div');
  d.className = cls;
  if (text !== undefined) d.textContent = text;
  if (style) d.style.cssText = style;
  root.appendChild(d);
  return d;
}

// 水印
for (let r = 0; r < 34; r++) {
  for (let c = 0; c < 4; c++) {
    const w = el('wm', undefined, 'left:' + (163 + c * 311) + 'px;top:' + (75 + r * 103) + 'px');
    w.innerHTML = '<i style="left:0"></i><i style="left:23px"></i><i style="left:46px"></i><b>源点资讯</b><span>SOURCE POINT</span>';
  }
}

// 头部
el('abs', undefined, 'left:150px;top:104px;width:1050px;height:141px;background:#b11c24');
el('abs', undefined, 'left:160px;top:113px;width:47px;height:47px;background:#fff;border-radius:3px');
el('center', '永', 'left:183px;top:135px;font:bold 38px "Noto Sans CJK SC";color:#b11c24');
el('center', '永安期货', 'left:289px;top:128px;font:bold 35px "Noto Sans CJK SC";color:#fff');
el('center', 'YONGAN FUTURES', 'left:289px;top:155px;font:14.5px "Liberation Sans";color:#fff;letter-spacing:.3px');
el('center', '沥青早报', 'left:675px;top:183px;font:bold 40px "Noto Sans CJK SC";color:#fff');
el('center', '研究中心能化团队  2025/04/29', 'left:1028px;top:222px;font:bold 21.5px "Noto Sans CJK SC";color:#fff;white-space:pre');

// 小节标题
el('abs', undefined, 'left:154px;top:248px;width:13px;height:13px;background:#a51c2c;transform:rotate(45deg);border-radius:2px');
el('abs', undefined, 'left:161px;top:254px;width:220px;height:1px;background:#a51c2c');
el('center', '沥 青', 'left:216px;top:281px;font:bold 24px "Noto Sans CJK SC";color:#a51c2c');
el('abs', undefined, 'left:150px;top:304px;width:27px;height:5px;background:#a51c2c;border-radius:3px');

// 价格表
const table = document.createElement('table');
table.id = 'price';
let tableHtml = '<colgroup>' + tableWidths.map(w => '<col style="width:' + w + 'px">').join('') + '</colgroup><tr>' + tableHead.map(h => '<th>' + h + '</th>').join('') + '</tr>';
tableRows.forEach(row => { tableHtml += '<tr>' + row.map(v => '<td>' + v + '</td>').join('') + '</tr>'; });
tableHtml += '<tr>' + tableChange.map(v => '<td class="' + (typeof v === 'number' ? (v > 0 ? 'up' : v < 0 ? 'down' : '') : '') + '">' + v + '</td>').join('') + '</tr>';
table.innerHTML = tableHtml;
root.appendChild(table);

// 点评
el('box', undefined, 'top:514px;height:195px');
el('abs', undefined, 'left:150px;top:563px;width:1044px;height:2px;background:#999');
el('abs', undefined, 'left:290px;top:514px;width:1px;height:195px;background:#999');
el('abs', '日度点评：', 'left:152px;top:524px;font:bold 20px/26px "Noto Sans CJK SC";color:#111');
el('abs', '周度观点：', 'left:152px;top:621px;font:bold 20px/26px "Noto Sans CJK SC";color:#111');
dailyLines.forEach((t, i) => el('note' + (i === dailyLines.length - 1 ? ' end' : ''), t, 'top:' + (515 + i * 24) + 'px'));
weeklyLines.forEach((t, i) => el('note' + (i === weeklyLines.length - 1 ? ' end' : ''), t, 'top:' + (564 + i * 24) + 'px'));

// 图表区白底
el('abs', undefined, 'left:150px;top:711px;width:997px;height:2585px;background:#fff');
el('center', '永安期货', 'left:910px;top:3125px;font:bold 66px "Noto Sans CJK SC";color:#f7f7f7');

// 声明
el('abs', undefined, 'left:149px;top:3299px;width:1052px;height:197px;background:#b11c24');
el('abs', '免责声明:', 'left:153px;top:3301px;font:bold 20px/26px "Noto Sans CJK SC";color:#fff');
disclaimerLines.forEach((t, i) => el('disc' + (i === disclaimerLines.length - 1 ? ' end' : ''), t, 'top:' + (3330 + i * 23.8) + 'px'));

Chart.defaults.font.family = "'Liberation Sans','Noto Sans CJK SC',sans-serif";
Chart.defaults.font.size = 15;
Chart.defaults.color = '#444';

const plotFrame = {
  id: 'plotFrame',
  beforeDatasetsDraw(chart, args, opts) {
    const a = chart.chartArea, c = chart.ctx;
    c.save();
    c.strokeStyle = '#ddd';
    c.lineWidth = 1;
    c.beginPath();
    c.moveTo(a.left + 0.5, a.top);
    c.lineTo(a.left + 0.5, a.bottom);
    c.moveTo(a.right - 0.5, a.top);
    c.lineTo(a.right - 0.5, a.bottom);
    c.stroke();
    if (opts.zero !== null) {
      const y = chart.scales.y.getPixelForValue(opts.zero);
      c.strokeStyle = DARK;
      c.beginPath();
      chart.scales.x.ticks.forEach(t => {
        const x = Math.round(chart.scales.x.getPixelForValue(t.value)) + 0.5;
        c.moveTo(x, y);
        c.lineTo(x, y + 5);
      });
      c.stroke();
    }
    c.restore();
  }
};

function drawLegend(chart, lg) {
  chart.data.datasets.forEach((ds, i) => {
    const x = lg.xs ? lg.xs[i] : lg.x + (i % lg.per) * lg.pitch;
    const y = lg.itemYs ? lg.itemYs[i] : lg.ys[Math.floor(i / lg.per)];
    const item = el('lg', undefined, 'left:' + x + 'px;top:' + (y - 10) + 'px');
    item.innerHTML = '<u style="background:' + ds.borderColor + '"></u><s style="background:' + ds.borderColor + '"></s><em>' + ds.label + '</em>';
  });
}

function makeChart(cfg) {
  const [l, t, r, b] = cfg.plot;
  const mL = 70, mT = 14, mR = cfg.right ? 50 : 16, mB = 36;
  el('title', cfg.title, 'left:' + cfg.cx + 'px;top:' + cfg.titleY + 'px');
  const canvas = document.createElement('canvas');
  canvas.width = r - l + mL + mR;
  canvas.height = b - t + mT + mB;
  canvas.style.left = (l - mL) + 'px';
  canvas.style.top = (t - mT) + 'px';
  canvas.style.width = canvas.width + 'px';
  canvas.style.height = canvas.height + 'px';
  root.appendChild(canvas);

  const n = cfg.values.length;
  const colors = cfg.colors || cfg.values.map((v, i) => i === n - 2 ? DARK : i === n - 1 ? RED : palette[i]);
  const spans = cfg.spans || {};
  const widths = cfg.widths || {};
  const axes = cfg.axes || {};
  const datasets = cfg.values.map((vals, i) => {
    const span = spans[i] || [0, cfg.xMax];
    return {
      label: cfg.names[i],
      data: vals.map((v, k) => ({ x: span[0] + (span[1] - span[0]) * k / Math.max(vals.length - 1, 1), y: v })),
      borderColor: colors[i],
      backgroundColor: colors[i],
      borderWidth: widths[i] || (i === n - 1 && !cfg.colors ? 3.4 : 2.1),
      pointRadius: 0,
      tension: 0,
      yAxisID: axes[i] || 'y',
      order: n - i
    };
  });

  const bottomDark = cfg.dark === cfg.yVals[cfg.yVals.length - 1];
  const scales = {
    x: {
      type: 'linear', min: 0, max: cfg.xMax,
      afterBuildTicks: s => { s.ticks = cfg.xLabels.map((_, i) => ({ value: i })); },
      afterFit: s => { s.height = mB; },
      grid: { drawOnChartArea: false, tickLength: 5, color: (bottomDark || cfg.xTicks) ? DARK : 'transparent' },
      border: { display: false },
      ticks: { autoSkip: false, maxRotation: 0, padding: 3, callback: (v, i) => cfg.xLabels[i] }
    },
    y: {
      min: cfg.yVals[cfg.yVals.length - 1], max: cfg.yVals[0],
      afterBuildTicks: s => { s.ticks = cfg.yVals.map(v => ({ value: v })); },
      afterFit: s => { s.width = mL; },
      grid: {
        drawTicks: false,
        color: c => (c.tick && c.tick.value === cfg.dark) ? DARK : '#d2d2d2',
        lineWidth: c => (c.tick && c.tick.value === cfg.dark) ? 2 : 1.5
      },
      border: { display: false },
      ticks: { autoSkip: false, padding: 8, callback: (v, i) => cfg.yLabels[i] }
    }
  };
  if (cfg.right) {
    scales.y2 = {
      position: 'right',
      min: cfg.right.vals[cfg.right.vals.length - 1], max: cfg.right.vals[0],
      afterBuildTicks: s => { s.ticks = cfg.right.vals.map(v => ({ value: v })); },
      afterFit: s => { s.width = mR; },
      grid: { drawOnChartArea: false, drawTicks: false },
      border: { display: false },
      ticks: { autoSkip: false, padding: 10, callback: (v, i) => cfg.right.labels[i] }
    };
  }

  const chart = new Chart(canvas, {
    type: 'line',
    data: { datasets },
    options: {
      responsive: false,
      animation: false,
      layout: { padding: { top: mT, right: cfg.right ? 0 : mR, left: 0, bottom: 0 } },
      plugins: {
        legend: { display: false },
        tooltip: { enabled: false },
        plotFrame: { zero: (cfg.dark !== null && !bottomDark) ? cfg.dark : null }
      },
      scales
    },
    plugins: [plotFrame]
  });
  drawLegend(chart, cfg.legend);
  if (cfg.unit) el('center', cfg.unit[0], 'left:' + cfg.unit[1] + 'px;top:' + cfg.unit[2] + 'px;font-size:15px;color:#555');
  return chart;
}

const LX = 226, RX = 748, PITCH = 71.7;

makeChart({
  title: '沥青主力合约/Brent近2', cx: 388, titleY: 727, plot: [190, 789, 614, 987],
  xMax: 11.8, xLabels: months12,
  yVals: [80, 70, 60, 50, 40, 30], yLabels: ['80', '70', '60', '50', '40', '30'], dark: 30,
  names: years1325.slice(2),
  values: [brent2015, brent2016, brent2017, brent2018, brent2019, brent2020, brent2021, brent2022, brent2023, brent2024, brent2025],
  spans: { 10: [0, 3.77] },
  legend: { x: LX, per: 5, pitch: PITCH, ys: [757, 783, 810] }
});
makeChart({
  title: '沥青 06合约 基差季节性', cx: 910, titleY: 727, plot: [726, 789, 1136, 987],
  xMax: 8.86, xLabels: ['10月', '11月', '12月', '1月', '2月', '3月', '4月', '5月', '6月'],
  yVals: [900, 600, 300, 0, -300, -600, -900], yLabels: ['900', '600', '300', '0', '-300', '-600', '900'], dark: 0,
  names: ['2017/2018', '2018/2019', '2019/2020', '2020/2021', '2021/2022', '2022/2023', '2023/2024', '2024/2025'],
  values: [june1718, june1819, june1920, june2021, june2122, june2223, june2324, june2425],
  spans: { 0: [0.2, 8.8], 1: [0.2, 8.8], 2: [0.1, 8.8], 3: [0.2, 8.8], 4: [0.2, 8.8], 5: [0.1, 8.8], 6: [0.3, 8.7], 7: [0.25, 6.7] },
  legend: { x: 761, per: 3, pitch: 110.5, ys: [757, 783, 810] }
});
makeChart({
  title: '沥青 09合约 基差季节性', cx: 388, titleY: 1050, plot: [204, 1113, 614, 1312],
  xMax: 8.85, xLabels: months12.slice(0, 9),
  yVals: [900, 600, 300, 0, -300, -600], yLabels: ['900', '600', '300', '0', '-300', '-600'], dark: 0,
  names: years1325.slice(5),
  values: [sep2018, sep2019, sep2020, sep2021, sep2022, sep2023, sep2024, sep2025],
  spans: { 0: [2.2, 8.85], 2: [0, 8.8], 3: [0.05, 8.85], 4: [0.9, 8.85], 5: [0.05, 8.8], 6: [0, 8.8], 7: [0, 3.85] },
  legend: { x: LX, per: 5, pitch: PITCH, ys: [1080, 1107] }
});
makeChart({
  title: '沥青 12合约 基差季节性', cx: 910, titleY: 1050, plot: [726, 1113, 1136, 1312],
  xMax: 6.9, xLabels: ['6月', '7月', '8月', '9月', '10月', '11月', '12月'],
  yVals: [800, 600, 400, 200, 0, -200, -400, -600], yLabels: ['800', '600', '400', '200', '0', '-200', '-400', '-600'], dark: 0,
  names: years1325.slice(5),
  values: [dec2018, dec2019, dec2020, dec2021, dec2022, dec2023, dec2024, dec2025],
  legend: { x: RX, per: 5, pitch: PITCH, ys: [1080, 1107] }
});
makeChart({
  title: '沥青 6-9月差', cx: 388, titleY: 1375, plot: [204, 1437, 614, 1635],
  xMax: 4.9, xLabels: months12.slice(0, 5),
  yVals: [200, 100, 0, -100, -200, -300, -350], yLabels: ['200', '100', '0', '-100', '200', '-300', '-350'], dark: 0,
  names: years1325,
  values: [sp69y13, sp69y14, sp69y15, sp69y16, sp69y17, sp69y18, sp69y19, sp69y20, sp69y21, sp69y22, sp69y23, sp69y24, sp69y25],
  spans: { 0: [0.1, 4.85], 1: [0.05, 4.85], 3: [0, 4.88], 4: [0.1, 4.85], 10: [0.1, 4.8], 12: [0, 3.8] },
  widths: { 12: 3.8 },
  legend: { x: LX, per: 5, pitch: PITCH, ys: [1404, 1431, 1458] }
});
el('center', '永安源点整理', 'left:562px;top:1619px;font:16px "Noto Sans CJK SC";color:#aaa');
makeChart({
  title: '沥青 9-12月差', cx: 910, titleY: 1375, plot: [726, 1437, 1136, 1635],
  xMax: 4.93, xLabels: ['4月', '5月', '6月', '7月', '8月'],
  yVals: [500, 400, 300, 200, 100, 0, -100, -200, -300], yLabels: ['500', '400', '300', '200', '100', '0', '-100', '-200', '-300'], dark: 0,
  names: years1325,
  values: [sp912y13, sp912y14, sp912y15, sp912y16, sp912y17, sp912y18, sp912y19, sp912y20, sp912y21, sp912y22, sp912y23, sp912y24, sp912y25],
  spans: { 9: [0, 4.6], 10: [0, 4.9], 12: [0, 0.9] },
  widths: { 0: 2.8, 8: 3.2 },
  legend: { x: RX, per: 5, pitch: PITCH, ys: [1404, 1431, 1458] }
});
makeChart({
  title: '马瑞型炼厂综合裂差', cx: 388, titleY: 1698, plot: [210, 1760, 614, 1958],
  xMax: 11.83, xLabels: months12,
  yVals: [2500, 2000, 1500, 1000, 500, 0], yLabels: ['2,500', '2,000', '1,500', '1,000', '500', '0'], dark: 0,
  names: years1325.slice(4),
  values: [crack2017, crack2018, crack2019, crack2020, crack2021, crack2022, crack2023, crack2024, crack2025],
  spans: { 8: [0, 3.7] },
  widths: { 4: 2.8, 7: 2.6 },
  legend: { x: LX, per: 5, pitch: PITCH, ys: [1728, 1754] }
});
makeChart({
  title: '新加坡沥青与燃料油比价', cx: 910, titleY: 1698, plot: [720, 1760, 1105, 1958],
  xMax: 3.83, xLabels: ['2016-01-04', '2018-06-01', '2020-11-18', '2023-05-10'],
  yVals: [800, 700, 600, 500, 400, 300, 200, 100], yLabels: ['800', '700', '600', '500', '400', '300', '200', '100'], dark: 100,
  right: { vals: [2.4, 2.1, 1.8, 1.5, 1.2, 0.9, 0.6], labels: ['2.4', '2.1', '1.8', '1.5', '1.2', '0.9', '0.6'] },
  names: ['新加坡—FOB:中间价', '新加坡180CST燃料油', '新加坡市场沥青与燃料油比价（右轴）'],
  values: [sgAsphalt, sgFuel, sgRatio],
  colors: [RED, palette[0], palette[1]],
  axes: { 2: 'y2' }, widths: { 0: 2.4, 1: 2.4, 2: 1.1 },
  legend: { xs: [756, 923, 756], itemYs: [1728, 1728, 1755] }
});
makeChart({
  title: '沥青华东进口利润', cx: 388, titleY: 2021, plot: [216, 2084, 614, 2283],
  xMax: 3.94, xLabels: ['2016-01-04', '2018-05-25', '2020-09-29', '2023-02-09'],
  yVals: [500, 0, -500, -1000, -1500, -2000], yLabels: ['500', '0', '-500', '-1,000', '-1,500', '-2,000'], dark: 0,
  names: ['东南亚进口华东利润', '韩国进口华东利润'],
  values: [importSea, importKorea],
  colors: [RED, palette[0]],
  widths: { 0: 2.2, 1: 2.2 },
  legend: { xs: [247, 412], itemYs: [2052, 2052] }
});
makeChart({
  title: '焦化料-山东重交中间价', cx: 910, titleY: 2021, plot: [738, 2084, 1136, 2283],
  xMax: 11.83, xLabels: months12,
  yVals: [2000, 1500, 1000, 500, 0, -500, -1000], yLabels: ['2,000', '1,500', '1,000', '500', '0', '-500', '1,000'], dark: 0,
  names: years1325.slice(1),
  values: [coker2014, coker2015, coker2016, coker2017, coker2018, coker2019, coker2020, coker2021, coker2022, coker2023, coker2024, coker2025],
  spans: { 11: [0, 3.5] },
  widths: { 6: 2.6, 7: 3.2, 8: 2.6, 9: 2.6, 10: 2.8 },
  legend: { x: RX, per: 5, pitch: PITCH, ys: [2052, 2078, 2105] }
});
makeChart({
  title: '石油焦-重交沥青', cx: 388, titleY: 2345, plot: [216, 2408, 614, 2606],
  xMax: 11.8, xLabels: months12,
  yVals: [2000, 1000, 0, -1000, -2000, -3000], yLabels: ['2,000', '1,000', '0', '-1,000', '-2,000', '-3,000'], dark: 0,
  names: years1325.slice(2),
  values: [coke2015, coke2016, coke2017, coke2018, coke2019, coke2020, coke2021, coke2022, coke2023, coke2024, coke2025],
  spans: { 10: [0, 3.8] },
  widths: { 1: 2.8, 6: 3.2, 9: 2.8 },
  legend: { x: LX, per: 5, pitch: PITCH, ys: [2375, 2402, 2429] }
});
makeChart({
  title: '沥青:开工率:总开工率', cx: 910, titleY: 2345, plot: [712, 2408, 1136, 2606],
  xMax: 11.82, xLabels: months12,
  yVals: [90, 80, 70, 60, 50, 40, 30, 20], yLabels: ['90', '80', '70', '60', '50', '40', '30', '20'], dark: 20,
  names: years1325.slice(1),
  values: [rate2014, rate2015, rate2016, rate2017, rate2018, rate2019, rate2020, rate2021, rate2022, rate2023, rate2024, rate2025],
  spans: { 11: [0, 3.8] },
  widths: { 7: 3.2, 10: 2.4 }, unit: ['%', 711, 2393],
  legend: { x: RX, per: 5, pitch: PITCH, ys: [2375, 2402, 2429] }
});
makeChart({
  title: 'bc 厂库库存季节性', cx: 388, titleY: 2669, plot: [190, 2731, 614, 2930],
  xMax: 11.8, xLabels: months12, xTicks: true,
  yVals: [60, 50, 40, 30, 20, 10], yLabels: ['60', '50', '40', '30', '20', '10'], dark: null,
  names: years1325.slice(2),
  values: [plant2015, plant2016, plant2017, plant2018, plant2019, plant2020, plant2021, plant2022, plant2023, plant2024, plant2025],
  spans: { 10: [0, 3.85] },
  widths: { 7: 3.4, 9: 2.4 }, unit: ['%', 190, 2717],
  legend: { x: LX, per: 5, pitch: PITCH, ys: [2699, 2726, 2753] }
});
makeChart({
  title: 'bc 社会总库存率', cx: 910, titleY: 2669, plot: [712, 2731, 1136, 2930],
  xMax: 11.82, xLabels: months12, xTicks: true,
  yVals: [70, 60, 50, 40, 30, 20, 10], yLabels: ['70', '60', '50', '40', '30', '20', '10'], dark: null,
  names: years1325.slice(5),
  values: [social2018, social2019, social2020, social2021, social2022, social2023, social2024, social2025],
  spans: { 0: [5.5, 11.7], 1: [0, 11.2], 2: [0, 11.7], 3: [0.2, 11.8], 5: [0.2, 11.6], 7: [0, 3.85] },
  widths: { 4: 3.8, 6: 2.4 },
  legend: { x: RX, per: 5, pitch: PITCH, ys: [2699, 2726, 2753] }
});
makeChart({
  title: '沥青: 仓单季节性', cx: 388, titleY: 2993, plot: [228, 3056, 614, 3253],
  xMax: 11.8, xLabels: months12.slice(0, 11),
  yVals: [400, 300, 200, 100, 0], yLabels: ['400,000', '300,000', '200,000', '100,000', '0'], dark: 0,
  names: years1325,
  values: [ware2013, ware2014, ware2015, ware2016, ware2017, ware2018, ware2019, ware2020, ware2021, ware2022, ware2023, ware2024, ware2025],
  spans: { 0: [0, 1], 9: [0, 11.7], 11: [0, 11.7], 12: [0, 3.75] },
  widths: { 8: 3.4, 11: 2.6 }, unit: ['吨', 226, 3040],
  legend: { x: LX, per: 5, pitch: PITCH, ys: [3023, 3049, 3077] }
});
makeChart({
  title: '沥青盘面价格-山东马瑞原油', cx: 910, titleY: 2993, plot: [738, 3056, 1136, 3253],
  xMax: 11.83, xLabels: months12,
  yVals: [4000, 3000, 2000, 1000, 0, -1000, -2000, -3000], yLabels: ['4,000', '3,000', '2,000', '1,000', '0', '-1,000', '-2,000', '-3,000'], dark: null,
  names: years1325.slice(5),
  values: [maya2018, maya2019, maya2020, maya2021, maya2022, maya2023, maya2024, maya2025],
  spans: { 7: [0, 3.7] },
  widths: { 6: 2.6 }, unit: ['元/吨', 738, 3040],
  legend: { x: RX, per: 5, pitch: PITCH, ys: [3023, 3049, 3077] }
});
</script>
</body>
</html>
